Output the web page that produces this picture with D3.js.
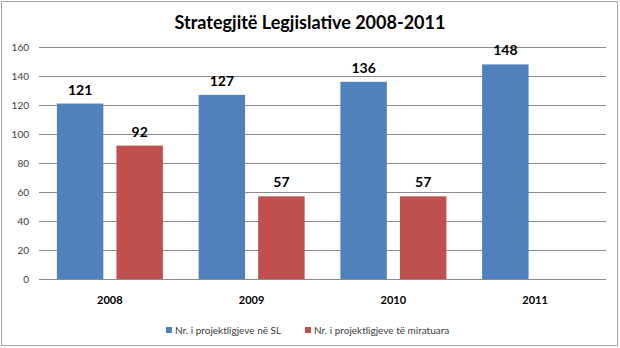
<!DOCTYPE html>
<html>
<head>
<meta charset="utf-8">
<script src="https://cdn.jsdelivr.net/npm/d3@7"></script>
<style>
  html, body { margin: 0; padding: 0; background: #fff; }
  svg text { font-family: Lato, "Open Sans", sans-serif; }
</style>
</head>
<body>
<div id="chart"></div>
<script>
const years = ['2008', '2009', '2010', '2011'];
const seriesNames = ['Nr. i projektligjeve në SL', 'Nr. i projektligjeve të miratuara'];
const submitted = [121, 127, 136, 148];
const approved = [92, 57, 57, null];
const yTicks = [0, 20, 40, 60, 80, 100, 120, 140, 160];
const colors = ['#4f81bd', '#c0504d'];

const width = 620, height = 348;
const margin = { top: 47, right: 14, bottom: 69, left: 39 };

const svg = d3.select('#chart')
  .append('svg')
  .attr('width', width)
  .attr('height', height);

// outer frame
svg.append('rect')
  .attr('x', 1.5).attr('y', 1.5)
  .attr('width', width - 4).attr('height', height - 4)
  .attr('fill', '#fff')
  .attr('stroke', '#a6a6a6')
  .attr('stroke-width', 1);

svg.append('text')
  .attr('x', 310)
  .attr('y', 29)
  .attr('text-anchor', 'middle')
  .attr('font-size', 18)
  .attr('font-weight', 'bold')
  .attr('fill', '#000')
  .text('Strategjitë Legjislative 2008-2011');

const x = d3.scaleBand()
  .domain(years)
  .range([margin.left, width - margin.right]);

const xInner = d3.scaleBand()
  .domain(seriesNames)
  .range([0, x.bandwidth()])
  .paddingInner(0.22)
  .paddingOuter(0.3);

const y = d3.scaleLinear()
  .domain([0, 160])
  .range([height - margin.bottom, margin.top]);

// gridlines + tick labels
const yAxis = svg.append('g')
  .attr('transform', `translate(${margin.left},0)`)
  .call(d3.axisLeft(y)
    .tickValues(yTicks)
    .tickSize(-(width - margin.left - margin.right))
    .tickPadding(10));

yAxis.select('.domain').remove();
yAxis.selectAll('.tick line')
  .attr('stroke', '#8c8c8c');
yAxis.selectAll('.tick text')
  .attr('font-size', 10)
  .attr('fill', '#404040');

const table = years.map((yr, i) => ({
  year: yr,
  values: [
    { name: seriesNames[0], value: submitted[i], color: colors[0] },
    { name: seriesNames[1], value: approved[i], color: colors[1] }
  ].filter(d => d.value != null)
}));

const groups = svg.selectAll('.year')
  .data(table)
  .enter()
  .append('g')
  .attr('class', 'year')
  .attr('transform', d => `translate(${x(d.year)},0)`);

groups.selectAll('rect')
  .data(d => d.values)
  .enter()
  .append('rect')
  .attr('x', d => xInner(d.name))
  .attr('y', d => y(d.value))
  .attr('width', xInner.bandwidth())
  .attr('height', d => y(0) - y(d.value))
  .attr('fill', d => d.color);

groups.selectAll('.value')
  .data(d => d.values)
  .enter()
  .append('text')
  .attr('class', 'value')
  .attr('x', d => xInner(d.name) + xInner.bandwidth() / 2)
  .attr('y', d => y(d.value) - 9)
  .attr('text-anchor', 'middle')
  .attr('font-size', 14)
  .attr('font-weight', 'bold')
  .attr('fill', '#000')
  .text(d => d.value);

// category labels
svg.selectAll('.cat')
  .data(years)
  .enter()
  .append('text')
  .attr('class', 'cat')
  .attr('x', d => x(d) + x.bandwidth() / 2)
  .attr('y', 304)
  .attr('text-anchor', 'middle')
  .attr('font-size', 11)
  .attr('font-weight', 'bold')
  .attr('fill', '#000')
  .text(d => d);

// legend
const legendX = [166, 305];
const legend = svg.selectAll('.legend')
  .data(seriesNames)
  .enter()
  .append('g')
  .attr('class', 'legend')
  .attr('transform', (d, i) => `translate(${legendX[i]},330)`);

legend.append('rect')
  .attr('x', 0).attr('y', -3)
  .attr('width', 6).attr('height', 6)
  .attr('fill', (d, i) => colors[i]);

legend.append('text')
  .attr('x', 9)
  .attr('y', 3.5)
  .attr('font-size', 10)
  .attr('fill', '#404040')
  .text(d => d);
</script>
</body>
</html>
